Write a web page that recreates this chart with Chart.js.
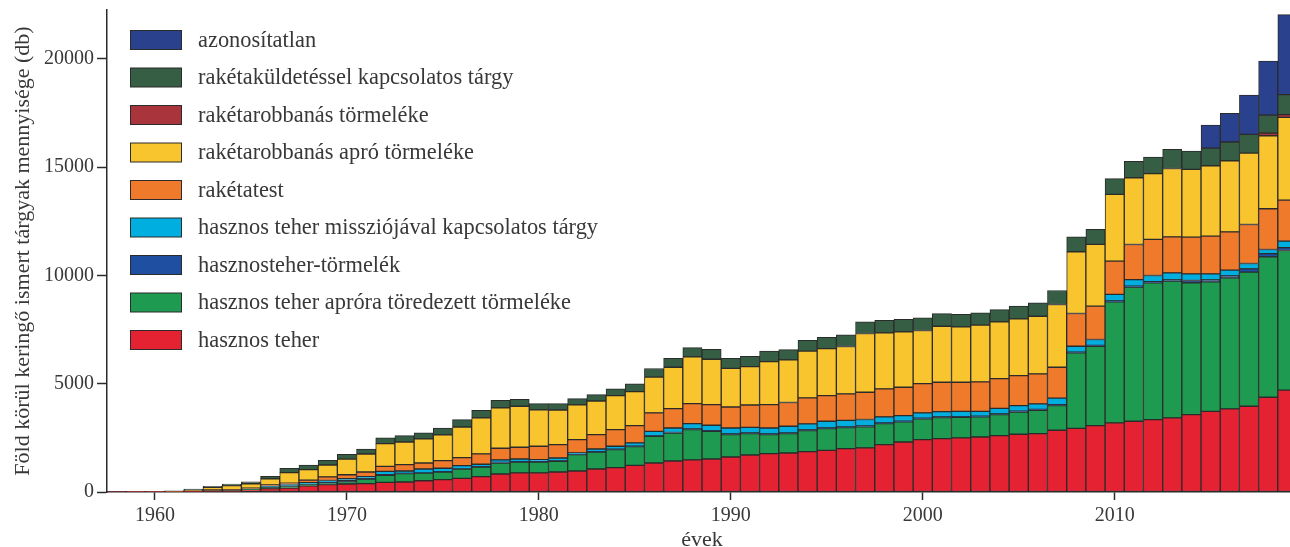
<!DOCTYPE html>
<html lang="hu">
<head>
<meta charset="utf-8">
<title>Föld körül keringő tárgyak</title>
<script src="https://cdn.jsdelivr.net/npm/chart.js@4.4.1/dist/chart.umd.min.js"></script>
<style>
  html, body { margin: 0; padding: 0; overflow: hidden; background: #fff; }
  canvas { display: block; }
</style>
</head>
<body>
<canvas id="debrisChart" width="1297" height="547"></canvas>
<script>
// évek 1958-2019
const years = [];
for (let y = 1958; y <= 2019; y++) years.push(y);

// értékek (db)
const hasznosTeher = [
  3, 8, 15, 20, 40, 60, 60, 100, 155, 185, 290, 340,
  370, 385, 445, 460, 520, 570, 630, 710, 830, 880,
  880, 925, 970, 1060, 1125, 1230, 1340, 1430, 1480, 1525,
  1615, 1710, 1770, 1800, 1865, 1925, 2000, 2035, 2185, 2310,
  2420, 2465, 2495, 2540, 2600, 2665, 2695, 2850, 2940, 3065,
  3190, 3265, 3340, 3420, 3575, 3725, 3835, 3960, 4375, 4700
];
const aproraToredezett = [
  0, 0, 0, 0, 10, 20, 20, 20, 60, 80, 60, 70,
  110, 215, 325, 385, 355, 355, 430, 445, 510, 505,
  505, 490, 755, 785, 830, 865, 1230, 1295, 1400, 1280,
  1035, 985, 880, 895, 970, 1000, 970, 970, 970, 925,
  955, 970, 955, 925, 970, 1030, 1080, 1140, 3480, 3665,
  5590, 6190, 6315, 6315, 6080, 5975, 6050, 6190, 6480, 6450
];
const hasznosteherTormelek = [
  0, 0, 0, 0, 0, 0, 0, 10, 20, 20, 20, 20,
  40, 20, 30, 10, 10, 10, 10, 10, 20, 20,
  20, 20, 20, 20, 20, 20, 20, 20, 30, 30,
  30, 30, 30, 30, 30, 30, 30, 40, 30, 30,
  30, 30, 30, 30, 40, 40, 40, 40, 40, 40,
  40, 50, 50, 60, 110, 90, 95, 150, 150, 130
];
const misszioTargy = [
  0, 0, 0, 0, 0, 0, 10, 10, 20, 60, 60, 100,
  90, 90, 155, 115, 175, 160, 145, 115, 120, 120,
  90, 135, 60, 120, 135, 150, 210, 210, 245, 245,
  275, 260, 275, 310, 280, 310, 310, 300, 280, 260,
  245, 245, 245, 230, 250, 255, 250, 300, 270, 270,
  300, 300, 290, 320, 305, 280, 260, 250, 190, 300
];
const raketatest = [
  0, 0, 0, 0, 20, 20, 20, 40, 70, 60, 120, 170,
  185, 215, 230, 290, 280, 355, 370, 480, 540, 540,
  615, 615, 615, 660, 770, 800, 850, 895, 925, 955,
  970, 1030, 1080, 1095, 1200, 1185, 1220, 1260, 1295, 1310,
  1355, 1355, 1340, 1355, 1370, 1385, 1385, 1430, 1510, 1540,
  1540, 1620, 1665, 1665, 1695, 1740, 1770, 1800, 1880, 1895
];
const robbanasApro = [
  0, 0, 0, 10, 20, 110, 185, 200, 280, 490, 480, 548,
  725, 830, 1045, 1050, 1110, 1185, 1415, 1660, 1865, 1895,
  1680, 1600, 1600, 1555, 1570, 1570, 1650, 1910, 2155, 2095,
  1785, 1770, 1985, 1970, 2155, 2170, 2185, 2710, 2585, 2555,
  2450, 2585, 2555, 2620, 2620, 2620, 2665, 2895, 2850, 2850,
  3080, 3080, 3035, 3155, 3125, 3250, 3280, 3295, 3370, 3820
];
const robbanasTormelek = [
  0, 0, 0, 0, 0, 0, 0, 0, 0, 0, 0, 0,
  0, 0, 0, 0, 0, 0, 0, 0, 0, 0,
  0, 0, 0, 0, 0, 0, 0, 0, 0, 0,
  0, 0, 0, 0, 0, 0, 0, 0, 0, 0,
  0, 0, 0, 0, 0, 0, 0, 0, 0, 0,
  0, 0, 0, 0, 0, 0, 0, 0, 120, 125
];
const kuldetesTargy = [
  2, 12, 15, 20, 50, 50, 75, 95, 120, 200, 215, 215,
  215, 230, 265, 290, 280, 310, 340, 355, 350, 320,
  290, 295, 290, 295, 310, 355, 400, 415, 430, 460,
  465, 480, 480, 475, 505, 525, 540, 540, 585, 585,
  585, 585, 585, 570, 570, 585, 615, 645, 690, 690,
  725, 755, 770, 880, 850, 815, 865, 860, 830, 920
];
const azonositatlan = [
  0, 0, 0, 0, 0, 0, 0, 0, 0, 0, 0, 0,
  0, 0, 0, 0, 0, 0, 0, 0, 0, 0,
  0, 0, 0, 0, 0, 0, 0, 0, 0, 0,
  0, 0, 0, 0, 0, 0, 0, 0, 0, 0,
  0, 0, 0, 0, 0, 0, 0, 0, 0, 0,
  0, 0, 0, 0, 0, 1060, 1325, 1820, 2500, 3700
];

const yTicks = [0, 5000, 10000, 15000, 20000];

const textColor = '#383838';
const lineColor = '#2b2b2b';
const serif = '"Liberation Serif", "Times New Roman", serif';

// jelmagyarázat a rajzterületen belül, fordított sorrendben
const insideLegend = {
  id: 'insideLegend',
  afterDatasetsDraw(chart) {
    const { ctx, chartArea } = chart;
    const sets = chart.data.datasets.slice().reverse();
    ctx.save();
    ctx.font = '22.4px ' + serif;
    ctx.textBaseline = 'middle';
    ctx.textAlign = 'left';
    sets.forEach((ds, i) => {
      const cy = chartArea.top + 30 + i * 37.5;
      ctx.fillStyle = ds.backgroundColor;
      ctx.fillRect(130.5, cy - 9.5, 51, 19);
      ctx.strokeStyle = lineColor;
      ctx.lineWidth = 1;
      ctx.strokeRect(130.5, cy - 9.5, 51, 19);
      ctx.fillStyle = textColor;
      ctx.fillText(ds.label, 198, cy + 1);
    });
    ctx.restore();
  }
};

const ctx = document.getElementById('debrisChart').getContext('2d');
const debrisChart = new Chart(ctx, {
  type: 'bar',
  data: {
    labels: years,
    datasets: [
      { label: 'hasznos teher', data: hasznosTeher, backgroundColor: '#e52232' },
      { label: 'hasznos teher apróra töredezett törmeléke', data: aproraToredezett, backgroundColor: '#1e9b50' },
      { label: 'hasznosteher-törmelék', data: hasznosteherTormelek, backgroundColor: '#1f4fa0' },
      { label: 'hasznos teher missziójával kapcsolatos tárgy', data: misszioTargy, backgroundColor: '#00aee0' },
      { label: 'rakétatest', data: raketatest, backgroundColor: '#f07a2c' },
      { label: 'rakétarobbanás apró törmeléke', data: robbanasApro, backgroundColor: '#f9c52f' },
      { label: 'rakétarobbanás törmeléke', data: robbanasTormelek, backgroundColor: '#a9343c' },
      { label: 'rakétaküldetéssel kapcsolatos tárgy', data: kuldetesTargy, backgroundColor: '#355e44' },
      { label: 'azonosítatlan', data: azonositatlan, backgroundColor: '#2a418e' }
    ]
  },
  options: {
    responsive: false,
    animation: false,
    devicePixelRatio: 1,
    layout: { padding: { top: 10, right: 0, bottom: 0, left: 0 } },
    datasets: {
      bar: {
        categoryPercentage: 1,
        barPercentage: 1,
        borderWidth: 1,
        borderColor: lineColor,
        borderSkipped: false
      }
    },
    plugins: {
      legend: { display: false },
      tooltip: { enabled: false }
    },
    scales: {
      x: {
        stacked: true,
        grid: {
          offset: false,
          drawOnChartArea: false,
          tickLength: 8,
          tickWidth: 1.5,
          tickColor: c => (years[c.index] % 10 === 0 ? lineColor : 'rgba(0,0,0,0)')
        },
        border: { color: lineColor, width: 1.5 },
        ticks: {
          autoSkip: false,
          maxRotation: 0,
          padding: 4,
          color: textColor,
          font: { family: serif, size: 20 },
          callback: (v, i) => (years[i] % 10 === 0 ? String(years[i]) : '')
        },
        title: {
          display: true,
          text: 'évek',
          color: textColor,
          font: { family: serif, size: 22, lineHeight: 0.64 },
          padding: 0
        },
        afterFit(scale) {
          scale.height = 55;
          scale.paddingLeft = 0;
          scale.paddingRight = 0;
        }
      },
      y: {
        stacked: true,
        min: 0,
        max: 22250,
        grid: {
          drawOnChartArea: false,
          tickLength: 10,
          tickWidth: 1.5,
          tickColor: lineColor
        },
        border: { color: lineColor, width: 1.5 },
        ticks: {
          padding: 3,
          color: textColor,
          font: { family: serif, size: 20 },
          callback: v => String(v)
        },
        afterBuildTicks(scale) {
          scale.ticks = yTicks.map(v => ({ value: v }));
        },
        title: {
          display: true,
          text: 'Föld körül keringő ismert tárgyak mennyisége (db)',
          color: textColor,
          font: { family: serif, size: 22 },
          padding: { top: 10, bottom: 0 }
        },
        afterFit(scale) {
          scale.width = 107;
          scale.paddingTop = 0;
          scale.paddingBottom = 0;
        }
      }
    }
  },
  plugins: [insideLegend]
});
</script>
</body>
</html>
